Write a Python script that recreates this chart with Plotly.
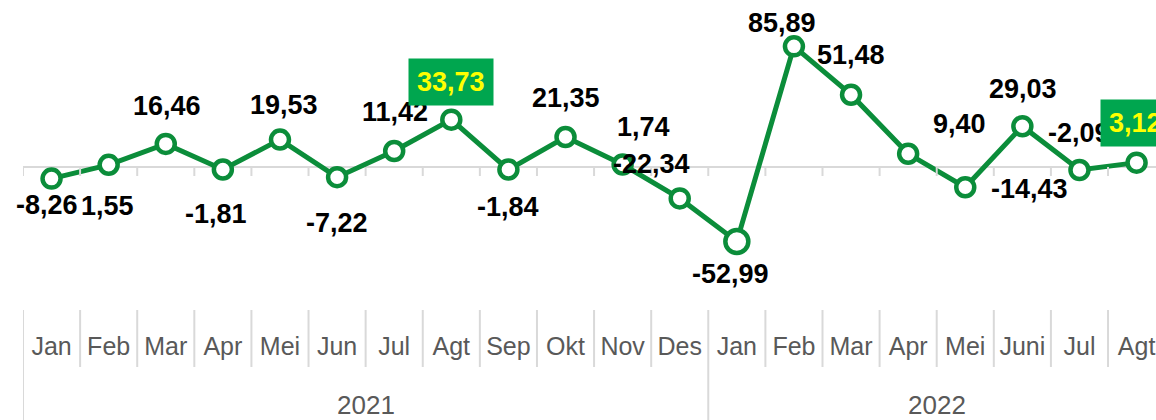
import plotly.graph_objects as go

# ---- data ----
months = ["Jan", "Feb", "Mar", "Apr", "Mei", "Jun", "Jul", "Agt", "Sep", "Okt", "Nov", "Des",
          "Jan", "Feb", "Mar", "Apr", "Mei", "Juni", "Jul", "Agt"]
years = ["2021", "2022"]
year_counts = [12, 8]
values = [-8.26, 1.55, 16.46, -1.81, 19.53, -7.22, 11.42, 33.73, -1.84, 21.35, 1.74, -22.34,
          -52.99, 85.89, 51.48, 9.40, -14.43, 29.03, -2.09, 3.12]
highlight = [7, 19]

# ---- styling (label offsets in pixels, not data) ----
label_dx = [-5, -1, 1, -7, 4, 0, 1, 0, 0, 0, 21, -28, -6, -12, 0, 51, 64, 1, 0, -1]
label_dy = [-26, -41, 38, -44, 35, -46, 39, 38, -37, 39, 38, 34, -33, 23, 40, 30, -2, 37, 37, 40]
marker_sizes = [18] * len(values)
marker_sizes[12] = 23

LINE = "#0B8D3A"
BOX = "#00A64F"
GRAY = "#595959"
GRID = "#D9D9D9"
FONT = "Liberation Sans Narrow, Arial Narrow, Liberation Sans, Arial, sans-serif"

PLOT_H = 310  # plot area height in px (figure 420 - bottom margin 110)

x = list(range(len(values)))

fig = go.Figure()
fig.add_trace(go.Scatter(
    x=x, y=values, mode="lines+markers",
    line=dict(color=LINE, width=5),
    marker=dict(size=marker_sizes, color="white", opacity=1,
                line=dict(color=LINE, width=4.5)),
    hoverinfo="skip", showlegend=False,
))

annotations = []
for i, v in enumerate(values):
    txt = f"{v:.2f}".replace(".", ",")
    hl = i in highlight
    annotations.append(dict(
        x=i, y=v, xref="x", yref="y", text=txt, showarrow=False,
        xshift=label_dx[i], yshift=label_dy[i],
        font=dict(family=FONT, size=27, color="#FFFF00" if hl else "black", weight="bold"),
        bgcolor=BOX if hl else "rgba(0,0,0,0)", borderpad=8 if hl else 0,
    ))

# year labels centered under their groups
start = 0
shapes = []
for y_lab, cnt in zip(years, year_counts):
    center = start + (cnt - 1) / 2
    annotations.append(dict(
        x=center, y=-95 / PLOT_H, xref="x", yref="paper", text=y_lab, showarrow=False,
        yanchor="middle", font=dict(family=FONT, size=26, color=GRAY),
    ))
    shapes.append(dict(type="line", xref="x", yref="paper", x0=start - 0.5, x1=start - 0.5,
                       y0=0, y1=-112 / PLOT_H, line=dict(color=GRID, width=2)))
    start += cnt

year_starts = [sum(year_counts[:k]) for k in range(len(year_counts))]
for i in range(0, len(values) + 1):
    b = i - 0.5
    shapes.append(dict(type="line", xref="x", yref="y", x0=b, x1=b,
                       ysizemode="pixel", yanchor=0, y0=0, y1=-9,
                       line=dict(color=GRID, width=2)))
    if i not in year_starts:
        shapes.append(dict(type="line", xref="x", yref="paper", x0=b, x1=b,
                           y0=0, y1=-57 / PLOT_H, line=dict(color=GRID, width=2)))

fig.update_layout(
    width=1156, height=420,
    margin=dict(l=23, r=0, t=0, b=110),
    paper_bgcolor="white", plot_bgcolor="white",
    xaxis=dict(range=[-0.5, 19.34], tickvals=x, ticktext=months, ticks="",
               showgrid=False, zeroline=False, showline=False,
               ticklabeloverflow="allow",
               tickfont=dict(family=FONT, size=25, color=GRAY), ticklabelstandoff=19),
    yaxis=dict(range=[-101.8, 118.9], showgrid=False, showticklabels=False,
               zeroline=True, zerolinecolor=GRID, zerolinewidth=2, showline=False),
    annotations=annotations, shapes=shapes,
)

fig.write_html(
    "out.html",
    config={"displayModeBar": False},
    post_script="document.body.style.margin='0';document.body.style.overflow='hidden';",
)
